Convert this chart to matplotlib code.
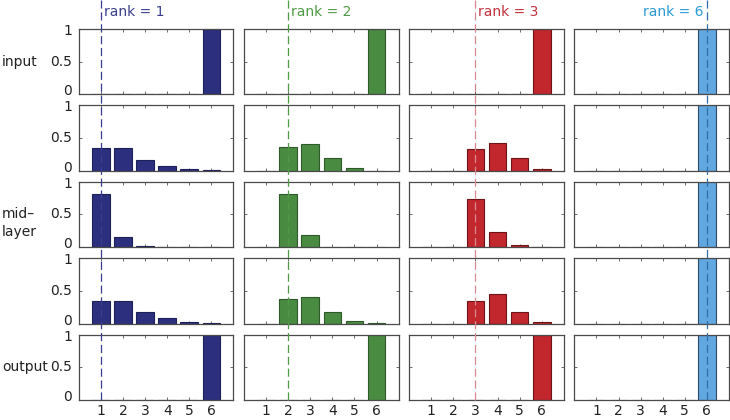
import matplotlib
matplotlib.use("Agg")
import matplotlib.pyplot as plt
import matplotlib.transforms as mtransforms

plt.rcParams['font.family'] = ['DejaVu Sans']

# ---- data ----
positions = [1, 2, 3, 4, 5, 6]
tick_labels = ['1', '2', '3', '4', '5', '6']
y_ticks = [0, 0.5, 1]
y_tick_labels = ['0', '0.5', '1']
ranks = [1, 2, 3, 6]
row_labels = [['input'], [], ['mid\u2013', 'layer'], [], ['output']]

rank1_rows = [
    [0, 0, 0, 0, 0, 1.0],
    [0.35, 0.35, 0.17, 0.07, 0.025, 0.005],
    [0.82, 0.16, 0.015, 0.003, 0.001, 0.0],
    [0.35, 0.35, 0.17, 0.08, 0.025, 0.005],
    [0, 0, 0, 0, 0, 1.0],
]
rank2_rows = [
    [0, 0, 0, 0, 0, 1.0],
    [0, 0.36, 0.41, 0.19, 0.04, 0.003],
    [0, 0.82, 0.18, 0.01, 0.002, 0.0],
    [0, 0.37, 0.40, 0.18, 0.04, 0.002],
    [0, 0, 0, 0, 0, 1.0],
]
rank3_rows = [
    [0, 0, 0, 0, 0, 1.0],
    [0, 0, 0.34, 0.43, 0.20, 0.02],
    [0, 0, 0.74, 0.23, 0.03, 0.005],
    [0, 0, 0.35, 0.45, 0.18, 0.02],
    [0, 0, 0, 0, 0, 1.0],
]
rank6_rows = [
    [0, 0, 0, 0, 0, 1.0],
    [0, 0, 0, 0, 0, 1.0],
    [0, 0, 0, 0, 0, 1.0],
    [0, 0, 0, 0, 0, 1.0],
    [0, 0, 0, 0, 0, 1.0],
]
columns = [rank1_rows, rank2_rows, rank3_rows, rank6_rows]

bar_colors = ['#2C2F7E', '#4A8B42', '#C1272D', '#62A8E0']
edge_colors = ['#1E2058', '#2E5A2A', '#6E1418', '#2E4A66']
line_colors = ['#3A3E8E', '#4F9A45', '#D98A90', '#2F6EA8']
text_colors = ['#3B3E8E', '#4F9A45', '#C3313A', '#2A9BD6']
FS = 10

fig, axes = plt.subplots(5, 4, figsize=(7.3, 4.2), dpi=100)
fig.subplots_adjust(left=0.108, right=0.9986, top=0.931, bottom=0.0476,
                    wspace=0.068, hspace=0.168)

spine_color = '#4A4A4A'
label_shift = {0: 0.03, 0.5: 0.0, 1: -0.02}  # inches, nudges tick labels inward like the original
for c, rows in enumerate(columns):
    for r, vals in enumerate(rows):
        ax = axes[r, c]
        ax.bar(positions, vals, width=0.8, color=bar_colors[c],
               edgecolor=edge_colors[c], linewidth=0.8, zorder=2)
        ax.set_xlim(0, 7)
        ax.set_ylim(0, 1)
        ax.set_xticks(positions)
        ax.set_yticks(y_ticks)
        ax.set_yticklabels([])
        ax.tick_params(direction='in', length=2.5, width=0.6, color='#555555',
                       top=True, right=True, labelsize=FS, labelcolor='#222222')
        for s in ax.spines.values():
            s.set_color(spine_color)
            s.set_linewidth(0.9)
        if c == 0:
            ytrans = mtransforms.blended_transform_factory(ax.transAxes, ax.transData)
            for v, lab in zip(y_ticks, y_tick_labels):
                ax.text(0, v, lab, ha='right', va='center', fontsize=FS, color='#222222',
                        transform=ytrans + mtransforms.ScaledTranslation(-0.07, label_shift[v], fig.dpi_scale_trans))
        if r == 4:
            ax.set_xticklabels(tick_labels)
            ax.tick_params(axis='x', pad=3)
        else:
            ax.set_xticklabels([])

# row labels
for r, lines in enumerate(row_labels):
    if not lines:
        continue
    pos = axes[r, 0].get_position()
    yc = (pos.y0 + pos.y1) / 2
    for i, lab in enumerate(lines):
        fig.text(0.003, yc, lab, ha='left', va='center', fontsize=FS, color='#222222',
                 transform=fig.transFigure + mtransforms.ScaledTranslation(0, -i * 0.18, fig.dpi_scale_trans))

# rank dashed lines and labels
for c, rk in enumerate(ranks):
    bottom_ax = axes[4, c]
    trans = mtransforms.blended_transform_factory(bottom_ax.transData, fig.transFigure)
    y0 = bottom_ax.get_position().y0
    line = plt.Line2D([rk, rk], [y0, 1.0], transform=trans, color=line_colors[c],
                      linestyle=(0, (6.5, 3)), linewidth=0.9, zorder=10)
    fig.add_artist(line)
    if rk == 6:
        fig.text(rk, 0.972, 'rank = %d' % rk,
                 transform=trans + mtransforms.ScaledTranslation(-3/100, 0, fig.dpi_scale_trans),
                 fontsize=FS, color=text_colors[c], ha='right', va='center')
    else:
        fig.text(rk, 0.972, 'rank = %d' % rk,
                 transform=trans + mtransforms.ScaledTranslation(3/100, 0, fig.dpi_scale_trans),
                 fontsize=FS, color=text_colors[c], ha='left', va='center')

fig.savefig('out.png', dpi=100, facecolor='white')
